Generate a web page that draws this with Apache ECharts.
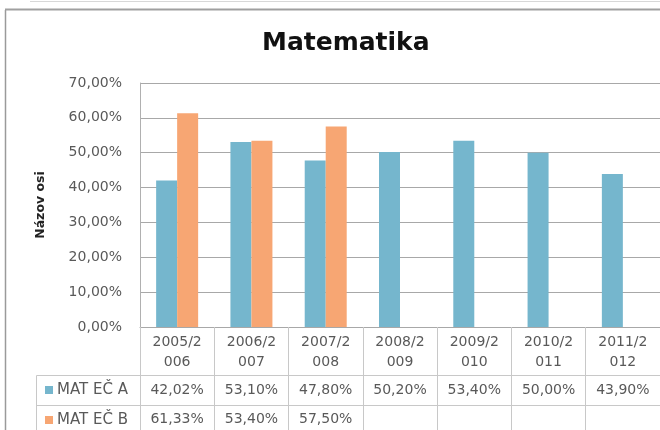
<!DOCTYPE html>
<html>
<head>
<meta charset="utf-8">
<script src="https://cdn.jsdelivr.net/npm/echarts@6/dist/echarts.min.js"></script>
<style>
html,body{margin:0;padding:0;background:#fff;}
#c{width:660px;height:430px;}
</style>
</head>
<body>
<div id="c"></div>
<script>
var categories = ['2005/2006','2006/2007','2007/2008','2008/2009','2009/2010','2010/2011','2011/2012'];
var seriesNames = ['MAT EČ A','MAT EČ B'];
var valuesA = [0.4202, 0.5310, 0.4780, 0.5020, 0.5340, 0.5000, 0.4390];
var valuesB = [0.6133, 0.5340, 0.5750, null, null, null, null];
var yTicks = [0, 0.1, 0.2, 0.3, 0.4, 0.5, 0.6, 0.7];

function pct(v){ return v == null ? '' : (v*100).toFixed(2).replace('.', ',') + '%'; }
function splitCat(c){ return c.slice(0,6) + '\n' + c.slice(6); }

var FONT = 'DejaVu Sans';
var TXT = '#595959';
var LINE = '#c8c8c8';
var BLUE = '#75b6cd';
var ORANGE = '#f7a673';

var chart = echarts.init(document.getElementById('c'), null, {renderer:'canvas'});
chart.setOption({
  animation: false,
  backgroundColor: '#fff',
  color: [BLUE, ORANGE],
  title: {
    text: 'Matematika', left: 262, top: 31, padding: 0,
    textStyle: {fontFamily: FONT, fontSize: 25, fontWeight: 'bold', color: '#111'}
  },
  legend: {
    orient: 'vertical', left: 45, top: 382, padding: 0,
    itemWidth: 8, itemHeight: 8, itemGap: 14, icon: 'rect',
    data: seriesNames,
    textStyle: {fontFamily: FONT, fontSize: 15, color: TXT, lineHeight: 16, padding: [0,0,0,-1]}
  },
  grid: {left: 140, width: 521, top: 83, bottom: 103, containLabel: false},
  yAxis: {
    type: 'value', min: yTicks[0], max: yTicks[yTicks.length-1], interval: 0.1,
    name: 'Názov osi', nameLocation: 'middle', nameRotate: 90, nameGap: 93,
    nameTextStyle: {fontFamily: FONT, fontSize: 12.5, fontWeight: 'bold', color: '#222'},
    axisLine: {show: true, lineStyle: {color: '#b0b0b0'}},
    axisTick: {show: false},
    axisLabel: {margin: 18, fontFamily: FONT, fontSize: 14, color: TXT, formatter: function(v){ return pct(v); }},
    splitLine: {lineStyle: {color: '#a8a8a8'}}
  },
  xAxis: [
    {
      type: 'category', data: categories, position: 'bottom',
      axisLine: {show: true, lineStyle: {color: '#a8a8a8'}},
      axisTick: {show: true, length: 110, lineStyle: {color: LINE}},
      axisLabel: {margin: 5, fontFamily: FONT, fontSize: 14, color: TXT, lineHeight: 20, interval: 0,
        formatter: function(v){ return splitCat(v); }}
    },
    {
      type: 'category', data: valuesA.map(pct), position: 'bottom', offset: 48,
      axisLine: {show: true, lineStyle: {color: LINE}},
      axisTick: {show: false},
      axisLabel: {margin: 7, fontFamily: FONT, fontSize: 14, color: TXT, lineHeight: 16, interval: 0}
    },
    {
      type: 'category', data: valuesB.map(pct), position: 'bottom', offset: 78,
      axisLine: {show: true, lineStyle: {color: LINE}},
      axisTick: {show: false},
      axisLabel: {margin: 6, fontFamily: FONT, fontSize: 14, color: TXT, lineHeight: 16, interval: 0}
    }
  ],
  series: [
    {name: seriesNames[0], type: 'bar', xAxisIndex: 0, data: valuesA, barWidth: 21, barGap: '0%'},
    {name: seriesNames[1], type: 'bar', xAxisIndex: 0, data: valuesB, barWidth: 21, barGap: '0%'}
  ],
  graphic: [
    {type: 'line', shape: {x1: 36.5, y1: 375.5, x2: 140, y2: 375.5}, style: {stroke: LINE, lineWidth: 1}},
    {type: 'line', shape: {x1: 36.5, y1: 405.5, x2: 140, y2: 405.5}, style: {stroke: LINE, lineWidth: 1}},
    {type: 'line', shape: {x1: 36.5, y1: 375.5, x2: 36.5, y2: 430}, style: {stroke: LINE, lineWidth: 1}},
    {type: 'line', shape: {x1: 5.5, y1: 10, x2: 5.5, y2: 430}, style: {stroke: '#9a9a9a', lineWidth: 1.5}},
    {type: 'line', shape: {x1: 5, y1: 9.5, x2: 660, y2: 9.5}, style: {stroke: '#a0a0a0', lineWidth: 2}},
    {type: 'line', shape: {x1: 30, y1: 1.5, x2: 660, y2: 1.5}, style: {stroke: '#d8d8d8', lineWidth: 1}}
  ]
});
</script>
</body>
</html>
